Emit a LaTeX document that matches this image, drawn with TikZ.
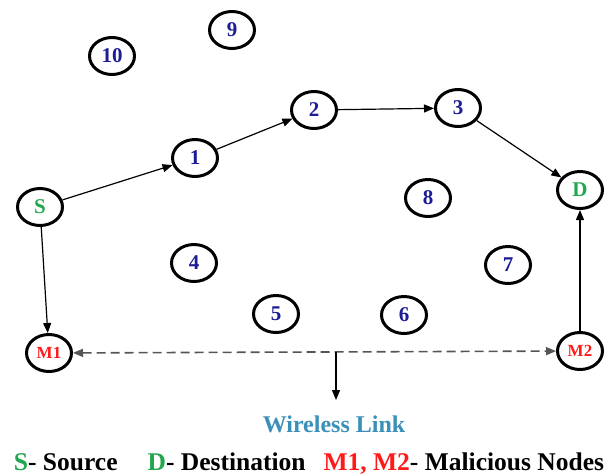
\documentclass[tikz,border=0pt]{standalone}
\usepackage{fontspec}
\setmainfont{Liberation Serif}
\usetikzlibrary{arrows.meta,shapes.geometric}
\definecolor{numblue}{HTML}{1C1C96}
\definecolor{srcgreen}{HTML}{22A650}
\definecolor{malred}{HTML}{FF1A1A}
\definecolor{linkblue}{HTML}{3A90B8}
\definecolor{linkgray}{HTML}{555555}
\begin{document}
\begin{tikzpicture}[x=1pt,y=-1pt,
  mnode/.style={ellipse,draw=black,line width=3pt,minimum width=45pt,minimum height=37pt,inner sep=0pt,
    font=\fontsize{21}{21}\selectfont\bfseries,text=numblue},
  sd/.style={text=srcgreen},
  mal/.style={text=malred,font=\fontsize{17}{17}\selectfont\bfseries},
  link/.style={line width=1.2pt,-{Triangle[length=10pt,width=8pt]}},
  wire/.style={dashed,dash pattern=on 9pt off 5pt,line width=1.6pt,draw=linkgray,
    {Triangle[length=10pt,width=8pt]}-{Triangle[length=10pt,width=8pt]}},
  legend/.style={font=\fontsize{25.5}{25.5}\selectfont\bfseries}]
\useasboundingbox (0,0) rectangle (615,475);

% network nodes
\node[mnode,sd]  (S)  at (40,207)  {S};
\node[mnode]     (n1) at (195,158) {1};
\node[mnode]     (n2) at (314,110) {2};
\node[mnode]     (n3) at (458,108) {3};
\node[mnode,sd]  (D)  at (580,190) {D};
\node[mnode]     (n4) at (194,263) {4};
\node[mnode]     (n5) at (276,314) {5};
\node[mnode]     (n6) at (404,315) {6};
\node[mnode]     (n7) at (508,265) {7};
\node[mnode]     (n8) at (428,198) {8};
\node[mnode]     (n9) at (232,30)  {9};
\node[mnode]     (n10) at (112,56) {10};
\node[mnode,mal] (M1) at (49,353)  {M1};
\node[mnode,mal] (M2) at (580,351) {M2};

% route through the network
\draw[link] (S) -- (n1);
\draw[link] (n1) -- (n2);
\draw[link] (n2) -- (n3);
\draw[link] (n3) -- (D);
\draw[link] (S) -- (M1);
\draw[link] (M2) -- (D);

% wireless link between the malicious nodes
\draw[wire] (M1) -- (M2);
\coordinate (wl) at (336,352);
\node[font=\fontsize{24}{24}\selectfont\bfseries,text=linkblue] (wltext) at (334,424) {Wireless Link};
\draw[link] (wl) -- (336,400);

% legend
\node[legend,anchor=base] (leg) at (309,470)
  {\textcolor{srcgreen}{S}- Source\hspace{30pt}\textcolor{srcgreen}{D}- Destination\hspace{18pt}\textcolor{malred}{M1, M2}- Malicious Nodes};
\end{tikzpicture}
\end{document}
